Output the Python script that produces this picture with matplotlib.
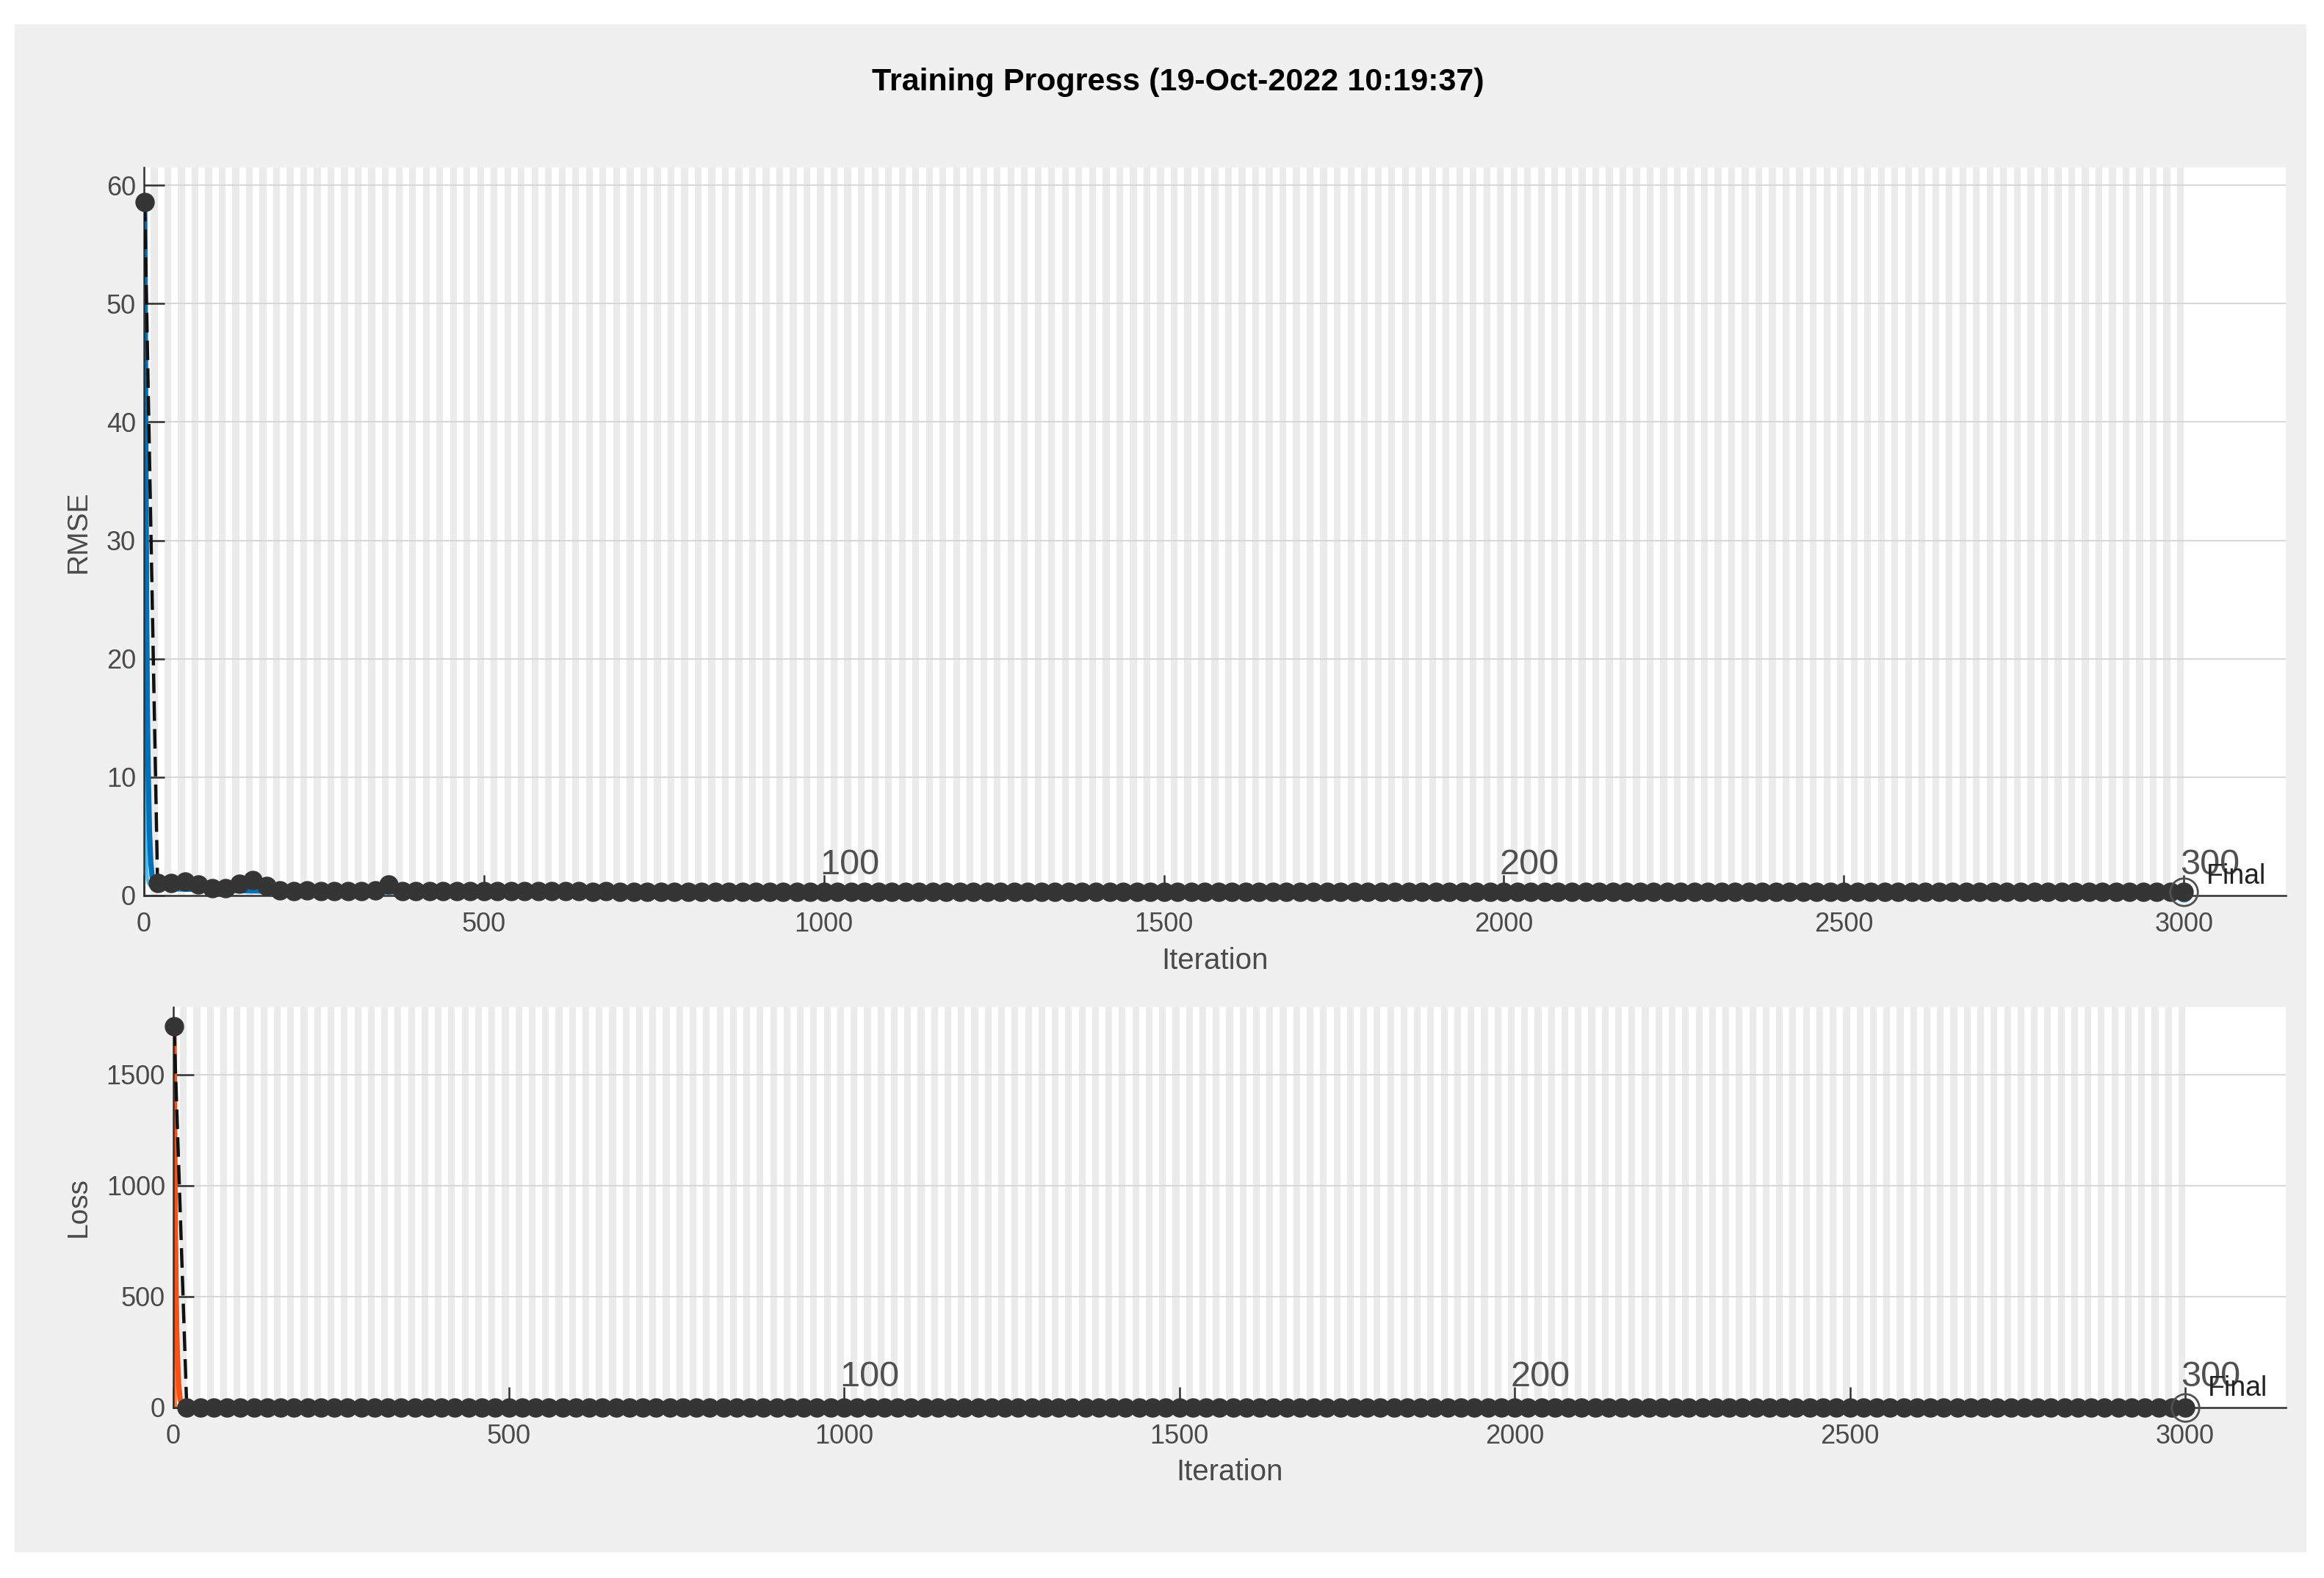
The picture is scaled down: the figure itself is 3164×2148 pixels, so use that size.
import numpy as np
import matplotlib.pyplot as plt
import matplotlib.transforms as mtransforms
from matplotlib.patches import Rectangle

plt.rcParams['font.family'] = ['Liberation Sans', 'DejaVu Sans']

# ---- data ----
n_epochs = 300
iters_per_epoch = 10
max_iter = 3000
epoch_labels = ['100', '200', '300']
epoch_label_iters = [1000, 2000, 3000]

# training curve (raw + smoothed), sampled where it can be read
train_iter = [1, 2, 3, 4, 5, 6, 8, 10, 12, 15, 20, 40, 100, 200, 400, 1000, 2000, 3000]
rmse_train = [58.6, 24.0, 6.5, 2.2, 1.4, 1.1, 0.9, 0.8, 0.75, 0.7, 0.6, 0.5, 0.4, 0.3, 0.25, 0.2, 0.15, 0.12]
rmse_smooth = [58.6, 48.0, 35.0, 24.0, 16.0, 11.0, 5.5, 2.8, 1.6, 1.0, 0.8, 0.6, 0.45, 0.35, 0.3, 0.2, 0.15, 0.12]
loss_train = [1717, 288, 21, 2.4, 1.0, 0.6, 0.4, 0.3, 0.28, 0.25, 0.2, 0.12, 0.08, 0.05, 0.03, 0.02, 0.01, 0.01]
loss_smooth = [1717, 1300, 850, 560, 360, 240, 100, 40, 15, 3.0, 1.0, 0.4, 0.1, 0.06, 0.04, 0.02, 0.01, 0.01]

# validation (every 20 iterations, first one at iteration 1)
rmse_val = [
    58.6, 1.05, 1.05, 1.2, 0.9, 0.6, 0.65, 1.0, 1.3, 0.8,
    0.45, 0.4, 0.45, 0.4, 0.35, 0.35, 0.35, 0.45, 0.9, 0.4,
    0.4, 0.38, 0.4, 0.37, 0.38, 0.36, 0.37, 0.36, 0.36, 0.35,
    0.36, 0.35, 0.35, 0.34, 0.35, 0.34, 0.34, 0.34, 0.33, 0.34,
    0.33, 0.33, 0.33, 0.33, 0.32, 0.33, 0.32, 0.32, 0.32, 0.32,
    0.32, 0.32, 0.31, 0.32, 0.31, 0.31, 0.31, 0.31, 0.31, 0.31,
    0.31, 0.31, 0.31, 0.31, 0.31, 0.31, 0.3, 0.31, 0.3, 0.3,
    0.3, 0.3, 0.3, 0.3, 0.3, 0.3, 0.3, 0.3, 0.3, 0.3,
    0.3, 0.3, 0.3, 0.3, 0.3, 0.3, 0.3, 0.3, 0.3, 0.3,
    0.3, 0.3, 0.3, 0.3, 0.3, 0.3, 0.3, 0.3, 0.3, 0.3,
    0.3, 0.3, 0.3, 0.3, 0.3, 0.3, 0.3, 0.3, 0.3, 0.3,
    0.3, 0.3, 0.3, 0.3, 0.3, 0.3, 0.3, 0.3, 0.3, 0.3,
    0.3, 0.3, 0.3, 0.3, 0.3, 0.3, 0.3, 0.3, 0.3, 0.3,
    0.3, 0.3, 0.3, 0.3, 0.3, 0.3, 0.3, 0.3, 0.3, 0.3,
    0.3, 0.3, 0.3, 0.3, 0.3, 0.3, 0.3, 0.3, 0.3, 0.3,
    0.3,
]
loss_val = [
    1717, 0.55, 0.55, 0.72, 0.41, 0.18, 0.21, 0.5, 0.85, 0.32,
    0.1, 0.08, 0.1, 0.08, 0.06, 0.06, 0.06, 0.1, 0.4, 0.08,
    0.08, 0.07, 0.08, 0.07, 0.07, 0.06, 0.07, 0.06, 0.06, 0.06,
    0.06, 0.06, 0.06, 0.06, 0.06, 0.06, 0.06, 0.06, 0.05, 0.06,
    0.05, 0.05, 0.05, 0.05, 0.05, 0.05, 0.05, 0.05, 0.05, 0.05,
    0.05, 0.05, 0.05, 0.05, 0.05, 0.05, 0.05, 0.05, 0.05, 0.05,
    0.05, 0.05, 0.05, 0.05, 0.05, 0.05, 0.045, 0.05, 0.045, 0.045,
    0.045, 0.045, 0.045, 0.045, 0.045, 0.045, 0.045, 0.045, 0.045, 0.045,
    0.045, 0.045, 0.045, 0.045, 0.045, 0.045, 0.045, 0.045, 0.045, 0.045,
    0.045, 0.045, 0.045, 0.045, 0.045, 0.045, 0.045, 0.045, 0.045, 0.045,
    0.045, 0.045, 0.045, 0.045, 0.045, 0.045, 0.045, 0.045, 0.045, 0.045,
    0.045, 0.045, 0.045, 0.045, 0.045, 0.045, 0.045, 0.045, 0.045, 0.045,
    0.045, 0.045, 0.045, 0.045, 0.045, 0.045, 0.045, 0.045, 0.045, 0.045,
    0.045, 0.045, 0.045, 0.045, 0.045, 0.045, 0.045, 0.045, 0.045, 0.045,
    0.045, 0.045, 0.045, 0.045, 0.045, 0.045, 0.045, 0.045, 0.045, 0.045,
    0.045,
]
val_iter = np.r_[1, np.arange(20, max_iter + 1, 20)]

TICK_COL = '#4a4a4a'
AXIS_COL = '#303030'
DOT_COL = '#353535'


def draw_panel(ax, raw, smooth, val, raw_col, smooth_col, ymax, yticks,
               ylabel, ylabel_x, xlabel_y, show_train_final):
    ax.set_facecolor('white')
    # alternating epoch shading
    for ep in range(2, n_epochs + 1, 2):
        ax.axvspan((ep - 1) * iters_per_epoch, ep * iters_per_epoch,
                   color='#ebebeb', lw=0, zorder=0)
    for yt in yticks[1:]:
        ax.axhline(yt, color='#d6d6d6', lw=0.7, zorder=0.5)

    ax.plot(train_iter, raw, color=raw_col, lw=1.6, zorder=2)
    ax.plot(train_iter, smooth, color=smooth_col, lw=2.6, zorder=2.1)

    ax.plot(val_iter, val, color='#111111', lw=1.6, dashes=(6, 2.5), zorder=3)
    ax.plot(val_iter, val, 'o', color=DOT_COL, ms=9.5, mew=0, zorder=3.1,
            clip_on=False)

    if show_train_final:
        ax.plot(train_iter[-1], raw[-1], 'o', color=raw_col, ms=8, mew=0,
                zorder=3.05, clip_on=False)
    ax.plot(val_iter[-1], val[-1], 'o', ms=13.5, mfc='none', mec='#505050',
            mew=1.0, zorder=3.3, clip_on=False)

    blend = mtransforms.blended_transform_factory(ax.transData, ax.transAxes)
    for lbl, it in zip(epoch_labels, epoch_label_iters):
        ax.annotate(lbl, xy=(it, 0), xycoords=blend, xytext=(-2, 7),
                    textcoords='offset points', ha='left', va='bottom',
                    fontsize=17.5, color='#505050', zorder=4)
    ax.annotate('Final', xy=(val_iter[-1], 0), xycoords=blend,
                xytext=(11, 3), textcoords='offset points', ha='left',
                va='bottom', fontsize=13.5, color='#222222', zorder=4)

    ax.set_xlim(0, 3150)
    ax.set_ylim(0, ymax)
    ax.set_xticks([0, 500, 1000, 1500, 2000, 2500, 3000])
    ax.set_yticks(yticks)
    ax.tick_params(axis='both', direction='in', length=10, width=0.9,
                   color=AXIS_COL, labelcolor=TICK_COL, labelsize=13)
    ax.tick_params(axis='x', pad=8)
    ax.tick_params(axis='y', pad=4)
    for side in ['top', 'right']:
        ax.spines[side].set_visible(False)
    for side in ['left', 'bottom']:
        ax.spines[side].set_color(AXIS_COL)
        ax.spines[side].set_linewidth(0.9)

    ax.set_ylabel(ylabel, fontsize=14, color=TICK_COL)
    ax.yaxis.set_label_coords(ylabel_x, 0.5)
    ax.set_xlabel('Iteration', fontsize=14.5, color=TICK_COL)
    ax.xaxis.set_label_coords(0.5, xlabel_y)
    ax.xaxis.label.set_va('center')
    ax.yaxis.label.set_va('center')


fig = plt.figure(figsize=(15.82, 10.74), dpi=200, facecolor='white')
fig.patches.append(Rectangle((0.0063, 0.0163), 0.986, 0.9683,
                             transform=fig.transFigure, facecolor='#f0f0f0',
                             edgecolor='none', zorder=-10))

ax1 = fig.add_axes([0.06195, 0.43250, 0.92162, 0.46136])
ax2 = fig.add_axes([0.07459, 0.10801, 0.90897, 0.25372])

draw_panel(ax1, rmse_train, rmse_smooth, rmse_val, '#4dbeee', '#0072bd',
           61.5, [0, 10, 20, 30, 40, 50, 60], 'RMSE', -0.0305, -0.0898, True)
draw_panel(ax2, loss_train, loss_smooth, loss_val, '#ff7a3c', '#fa5014',
           1803, [0, 500, 1000, 1500], 'Loss', -0.0449, -0.161, False)

fig.text(0.507, 0.948, 'Training Progress (19-Oct-2022 10:19:37)',
         ha='center', va='center', fontsize=15.5, fontweight='bold',
         color='black')

fig.savefig('out.png', dpi=200, facecolor=fig.get_facecolor())
